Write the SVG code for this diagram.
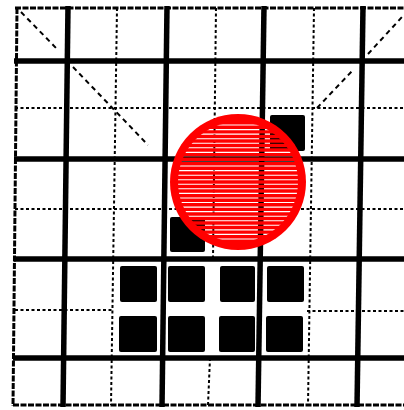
<svg xmlns="http://www.w3.org/2000/svg" width="404" height="410" viewBox="0 0 404 410">
  <style>
    .thick { stroke: #000; stroke-width: 5.5; fill: none; }
    .thin { stroke: #000; stroke-width: 2; fill: none; stroke-dasharray: 3 2.5; }
    .border { stroke: #000; stroke-width: 3; fill: none; stroke-dasharray: 6 1.5; }
    .diag { stroke: #000; stroke-width: 2; fill: none; stroke-dasharray: 5 4; }
    .sq { fill: #000; }
    .st { stroke: #000; stroke-width: 1.1; }
  </style>
  <defs>
    <clipPath id="inner">
      <circle cx="238" cy="182" r="60"/>
    </clipPath>
    <mask id="stripeMask" maskUnits="userSpaceOnUse" x="0" y="0" width="404" height="410">
      <rect x="0" y="0" width="404" height="410" fill="#fff"/>
      <g clip-path="url(#inner)">
        <line class="st" x1="170" y1="125" x2="310" y2="125"/>
        <line class="st" x1="170" y1="129.6" x2="310" y2="129.6"/>
        <line class="st" x1="170" y1="134.1" x2="310" y2="134.1"/>
        <line class="st" x1="170" y1="138.7" x2="310" y2="138.7"/>
        <line class="st" x1="170" y1="143.2" x2="310" y2="143.2"/>
        <line class="st" x1="170" y1="147.8" x2="310" y2="147.8"/>
        <line class="st" x1="170" y1="152.4" x2="310" y2="152.4"/>
        <line class="st" x1="170" y1="156.9" x2="310" y2="156.9"/>
        <line class="st" x1="170" y1="161.5" x2="310" y2="161.5"/>
        <line class="st" x1="170" y1="166" x2="310" y2="166"/>
        <line class="st" x1="170" y1="170.6" x2="310" y2="170.6"/>
        <line class="st" x1="170" y1="175.2" x2="310" y2="175.2"/>
        <line class="st" x1="170" y1="179.7" x2="310" y2="179.7"/>
        <line class="st" x1="170" y1="184.3" x2="310" y2="184.3"/>
        <line class="st" x1="170" y1="188.8" x2="310" y2="188.8"/>
        <line class="st" x1="170" y1="193.4" x2="310" y2="193.4"/>
        <line class="st" x1="170" y1="198" x2="310" y2="198"/>
        <line class="st" x1="170" y1="202.5" x2="310" y2="202.5"/>
        <line class="st" x1="170" y1="207.1" x2="310" y2="207.1"/>
        <line class="st" x1="170" y1="211.6" x2="310" y2="211.6"/>
        <line class="st" x1="170" y1="216.2" x2="310" y2="216.2"/>
        <line class="st" x1="170" y1="220.8" x2="310" y2="220.8"/>
        <line class="st" x1="170" y1="225.3" x2="310" y2="225.3"/>
        <line class="st" x1="170" y1="229.9" x2="310" y2="229.9"/>
        <line class="st" x1="170" y1="234.4" x2="310" y2="234.4"/>
        <line class="st" x1="170" y1="239" x2="310" y2="239"/>
      </g>
    </mask>
  </defs>
  <rect x="0" y="0" width="404" height="410" fill="#fff"/>
  <g id="grid">
    <line class="border" x1="15" y1="8" x2="404" y2="8"/>
    <line class="border" x1="17" y1="8" x2="13" y2="406"/>
    <line class="border" x1="13" y1="405" x2="404" y2="405"/>
    <line class="thick" x1="68" y1="6" x2="63" y2="407"/>
    <line class="thick" x1="167" y1="6" x2="162" y2="407"/>
    <line class="thick" x1="264" y1="6" x2="258" y2="407"/>
    <line class="thick" x1="363" y1="6" x2="357" y2="407"/>
    <line class="thin" x1="117" y1="8" x2="111" y2="405"/>
    <line class="thin" x1="216" y1="8" x2="213" y2="259"/>
    <line class="thin" x1="210" y1="358" x2="208" y2="405"/>
    <line class="thin" x1="314" y1="8" x2="308" y2="405"/>
    <line class="thick" x1="14" y1="61" x2="404" y2="61"/>
    <line class="thick" x1="14" y1="159" x2="404" y2="159"/>
    <line class="thick" x1="14" y1="259" x2="404" y2="259"/>
    <line class="thick" x1="13" y1="358" x2="404" y2="358"/>
    <line class="thin" x1="15" y1="108" x2="404" y2="108"/>
    <line class="thin" x1="15" y1="209" x2="404" y2="209"/>
    <line class="thin" x1="15" y1="310" x2="112" y2="310"/>
    <line class="thin" x1="307" y1="311" x2="404" y2="311"/>
  </g>
  <g id="diagonals">
    <line class="diag" x1="21" y1="12" x2="58" y2="50"/>
    <line class="diag" x1="73" y1="67" x2="148" y2="145"/>
    <line class="diag" x1="368" y1="54" x2="402" y2="17"/>
    <line class="diag" x1="317" y1="108" x2="353" y2="70"/>
  </g>
  <g id="squares">
    <rect class="sq" x="270" y="115" width="35" height="36" rx="2"/>
    <rect class="sq" x="170" y="217" width="35" height="35" rx="2"/>
    <rect class="sq" x="120" y="266" width="37" height="36" rx="2"/>
    <rect class="sq" x="168" y="266" width="37" height="36" rx="2"/>
    <rect class="sq" x="220" y="266" width="35" height="36" rx="2"/>
    <rect class="sq" x="267" y="266" width="37" height="36" rx="2"/>
    <rect class="sq" x="119" y="316" width="38" height="36" rx="2"/>
    <rect class="sq" x="168" y="316" width="37" height="36" rx="2"/>
    <rect class="sq" x="219" y="316" width="36" height="36" rx="2"/>
    <rect class="sq" x="266" y="316" width="37" height="36" rx="2"/>
  </g>
  <g id="marker">
    <circle cx="238" cy="182" r="68" fill="#ff0000" mask="url(#stripeMask)"/>
  </g>
</svg>
